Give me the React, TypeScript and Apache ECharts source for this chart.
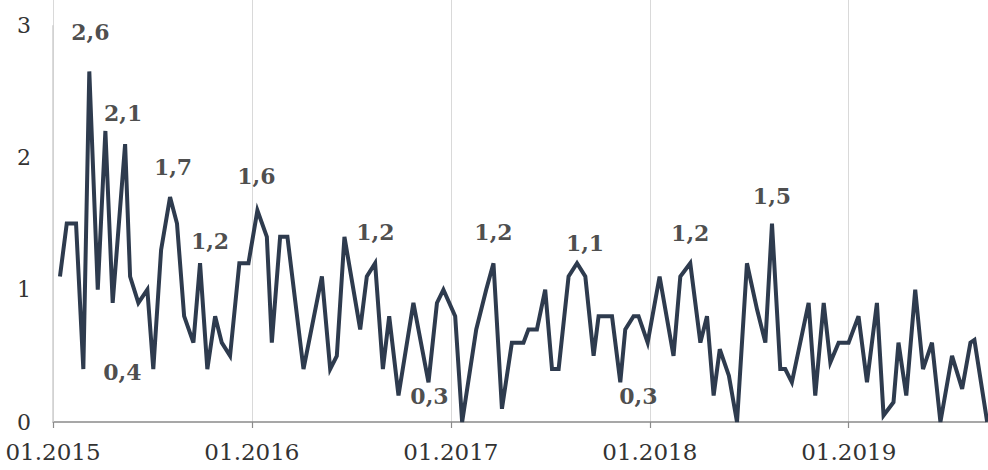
import React, { useEffect, useRef } from "react";
import * as echarts from "echarts";

// Months elapsed since 01.2015 for each observation
const months = [
  0.42, 0.83, 1.39, 1.83, 2.19, 2.7, 3.16, 3.6, 4.35, 4.65,
  5.15, 5.69, 6.05, 6.52, 7.06, 7.48, 7.91, 8.47, 8.87, 9.31,
  9.78, 10.18, 10.68, 11.24, 11.79, 12.33, 12.9, 13.2, 13.7, 14.14,
  15.11, 16.22, 16.72, 17.12, 17.58, 18.53, 18.93, 19.43, 19.9, 20.28,
  20.84, 21.74, 22.65, 23.16, 23.55, 24.26, 24.68, 25.53, 26.13, 26.57,
  27.08, 27.68, 28.38, 28.68, 29.19, 29.69, 30.1, 30.5, 31.1, 31.61,
  32.11, 32.61, 32.91, 33.72, 34.22, 34.52, 35.02, 35.32, 35.87, 36.59,
  37.43, 37.84, 38.44, 39.05, 39.45, 39.85, 40.22, 40.77, 41.26, 41.86,
  42.47, 42.97, 43.37, 43.87, 44.17, 44.57, 45.58, 45.98, 46.49, 46.89,
  47.39, 47.99, 48.59, 49.1, 49.7, 50.1, 50.7, 51.0, 51.47, 52.01,
  52.48, 53.02, 53.53, 54.23, 54.84, 55.34, 55.58, 56.35,
];

const values = [
  1.1, 1.5, 1.5, 0.4, 2.65, 1.0, 2.2, 0.9, 2.1, 1.1,
  0.9, 1.0, 0.4, 1.3, 1.7, 1.5, 0.8, 0.6, 1.2, 0.4,
  0.8, 0.6, 0.5, 1.2, 1.2, 1.6, 1.4, 0.6, 1.4, 1.4,
  0.4, 1.1, 0.4, 0.5, 1.4, 0.7, 1.1, 1.2, 0.4, 0.8,
  0.2, 0.9, 0.3, 0.9, 1.0, 0.8, 0.0, 0.7, 1.0, 1.2,
  0.1, 0.6, 0.6, 0.7, 0.7, 1.0, 0.4, 0.4, 1.1, 1.2,
  1.1, 0.5, 0.8, 0.8, 0.3, 0.7, 0.8, 0.8, 0.6, 1.1,
  0.5, 1.1, 1.2, 0.6, 0.8, 0.2, 0.55, 0.35, 0.0, 1.2,
  0.85, 0.6, 1.5, 0.4, 0.4, 0.3, 0.9, 0.2, 0.9, 0.45,
  0.6, 0.6, 0.8, 0.3, 0.9, 0.05, 0.15, 0.6, 0.2, 1.0,
  0.4, 0.6, 0.0, 0.5, 0.25, 0.6, 0.62, 0.0,
];

// Annotated points: index into the series and the text shown
const annotationIndex = [4, 8, 14, 18, 3, 25, 34, 42, 49, 59, 64, 72, 82];
const annotationText = ["2,6", "2,1", "1,7", "1,2", "0,4", "1,6", "1,2", "0,3", "1,2", "1,1", "0,3", "1,2", "1,5"];

// Label offsets (styling, px) for each annotation, relative to "top" placement
const annotationOffsets: [number, number][] = [
  [1, -28], [-2, -20], [3, -19], [10, -11], [39, 14], [-1, -23], [31, 6],
  [1, 25], [0, -20], [8, -9], [18, 25], [0, -19], [0, -17],
];

const startYear = 2015;
const yearTicks = [0, 12, 24, 36, 48];
const xMax = 56.4;
const yMax = 3.19;

const SERIF = "'DejaVu Serif', 'Liberation Serif', serif";

export default function App() {
  const ref = useRef<HTMLDivElement>(null);

  useEffect(() => {
    if (!ref.current) return;
    const chart = echarts.init(ref.current, undefined, { renderer: "svg" });

    const lineData = months.map((m, i) => [m, values[i]]);
    const annData = annotationIndex.map((idx, k) => ({
      value: [months[idx], values[idx]],
      label: {
        show: true,
        position: "top",
        distance: 0,
        offset: annotationOffsets[k],
        formatter: annotationText[k],
      },
    }));

    chart.setOption({
      animation: false,
      backgroundColor: "#ffffff",
      grid: { left: 53, right: 0, top: 0, bottom: 48, containLabel: false },
      xAxis: {
        type: "value",
        min: 0,
        max: xMax,
        interval: 12,
        axisLine: { show: true, lineStyle: { color: "#8a8a8a", width: 1.5 } },
        axisTick: { show: true, length: 6, lineStyle: { color: "#8a8a8a", width: 1.2 }, customValues: yearTicks },
        axisLabel: {
          show: true,
          customValues: yearTicks,
          margin: 18,
          color: "#333",
          fontFamily: SERIF,
          fontSize: 23,
          formatter: (v: number) => "01." + (startYear + Math.round(v / 12)),
        },
        splitLine: { show: true, lineStyle: { color: "#d9d9d9", width: 1 } },
      },
      yAxis: {
        type: "value",
        min: 0,
        max: yMax,
        interval: 1,
        axisLine: { show: false },
        axisTick: { show: false },
        splitLine: { show: false },
        axisLabel: {
          showMaxLabel: false,
          margin: 22,
          color: "#333",
          fontFamily: SERIF,
          fontSize: 22,
        },
      },
      series: [
        {
          type: "line",
          data: lineData,
          showSymbol: false,
          symbol: "none",
          lineStyle: { color: "#2e3b4e", width: 4, join: "miter", cap: "butt" },
          silent: true,
          markLine: {
            silent: true,
            symbol: "none",
            label: { show: false },
            lineStyle: { color: "#cfcfcf", width: 1.5, type: "solid" },
            data: [[{ coord: [0, 0] }, { coord: [0, 3] }]],
          },
          z: 3,
        },
        {
          type: "scatter",
          data: annData,
          symbolSize: 0,
          silent: true,
          itemStyle: { color: "#1e1e1e" },
          label: {
            color: "#1e1e1e",
            fontFamily: SERIF,
            fontWeight: "bold",
            fontSize: 22,
          },
          z: 4,
        },
      ],
    });

    return () => chart.dispose();
  }, []);

  return (
    <div
      ref={ref}
      style={{ position: "fixed", left: 0, top: 0, width: 988, height: 470 }}
    />
  );
}
